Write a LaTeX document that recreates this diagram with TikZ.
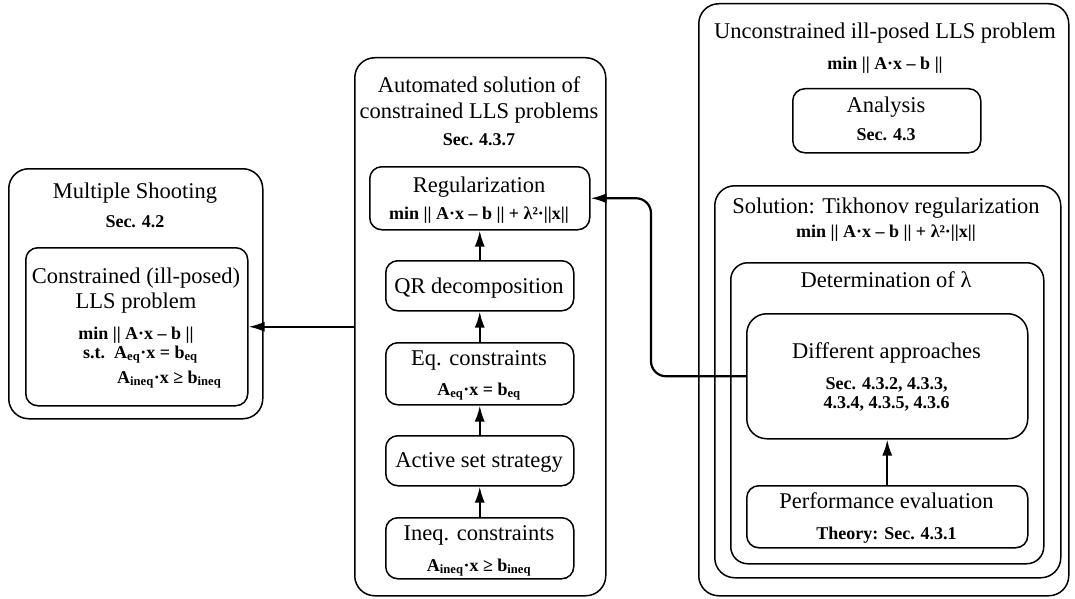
\documentclass[tikz,border=0pt]{standalone}
\usepackage{fontspec}
\setmainfont{Liberation Serif}
\usetikzlibrary{arrows.meta}
\tikzset{
  obox/.style={draw, line width=1.5pt, rounded corners=20pt, anchor=north west, inner sep=0pt},
  mbox/.style={draw, line width=1.5pt, rounded corners=17pt, anchor=north west, inner sep=0pt},
  ibox/.style={draw, line width=1.5pt, rounded corners=12pt, anchor=north west, inner sep=0pt},
  ttl/.style={font=\fontsize{22.5}{27}\selectfont, inner sep=0pt, anchor=base},
  sub/.style={font=\fontsize{18}{21}\selectfont\bfseries, inner sep=0pt, anchor=base},
  conn/.style={line width=2.2pt, -{Latex[length=16pt,width=10pt]}},
}
\newcommand{\mysb}[1]{\textsubscript{#1}}
\begin{document}
\begin{tikzpicture}[x=1pt,y=-1pt]
\useasboundingbox (0,0) rectangle (1075,599);

% ---------- left group ----------
\node[obox, minimum width=254, minimum height=250] (ms) at (8,168) {};
\node[ibox, minimum width=222, minimum height=158] (cons) at (25,247) {};
\node[ttl] (msT) at (135,198) {Multiple Shooting};
\node[sub] (msS) at (135,227) {Sec. 4.2};
\node[ttl] (consT1) at (136,283) {Constrained (ill-posed)};
\node[ttl] (consT2) at (136,308) {LLS problem};
\node[sub] (consF1) at (136,339) {min || A·x – b ||};
\node[sub, anchor=base west] (consF2) at (83,358) {s.t.\ \ A\mysb{eq}·x = b\mysb{eq}};
\node[sub, anchor=base west] (consF3) at (117,383) {A\mysb{ineq}·x ≥ b\mysb{ineq}};

% ---------- middle group ----------
\node[obox, minimum width=251, minimum height=538] (auto) at (354,57) {};
\node[ttl] (autoT1) at (479,93) {Automated solution of};
\node[ttl] (autoT2) at (479,118) {constrained LLS problems};
\node[sub] (autoS) at (479,145) {Sec. 4.3.7};

\node[ibox, minimum width=220, minimum height=63] (reg) at (369,166) {};
\node[ttl] (regT) at (479,192) {Regularization};
\node[sub] (regF) at (479,219) {min || A·x – b || + λ²·||x||};

\node[ibox, minimum width=188, minimum height=50] (qr) at (385,260) {};
\node[ttl] (qrT) at (479,293) {QR decomposition};

\node[ibox, minimum width=188, minimum height=62] (eq) at (385,342) {};
\node[ttl] (eqT) at (479,365) {Eq. constraints};
\node[sub] (eqF) at (479,395) {A\mysb{eq}·x = b\mysb{eq}};

\node[ibox, minimum width=188, minimum height=50] (act) at (385,435) {};
\node[ttl] (actT) at (479,467) {Active set strategy};

\node[ibox, minimum width=188, minimum height=61] (ineq) at (385,517) {};
\node[ttl] (ineqT) at (479,540) {Ineq. constraints};
\node[sub] (ineqF) at (479,571) {A\mysb{ineq}·x ≥ b\mysb{ineq}};

% ---------- right group ----------
\node[obox, minimum width=370, minimum height=592] (unc) at (698,3) {};
\node[ttl] (uncT) at (885,39) {Unconstrained ill-posed LLS problem};
\node[sub] (uncF) at (885,70) {min || A·x – b ||};

\node[ibox, minimum width=188, minimum height=64] (ana) at (792,88) {};
\node[ttl] (anaT) at (886,113) {Analysis};
\node[sub] (anaS) at (886,140) {Sec. 4.3};

\node[obox, minimum width=346, minimum height=392] (sol) at (714,185) {};
\node[ttl] (solT) at (886,213) {Solution: Tikhonov regularization};
\node[sub] (solF) at (886,237) {min || A·x – b || + λ²·||x||};

\node[mbox, minimum width=313, minimum height=301] (det) at (730,262) {};
\node[ttl] (detT) at (886,287) {Determination of λ};

\node[obox, minimum width=281, minimum height=125] (diff) at (746,313) {};
\node[ttl] (diffT) at (886.5,358) {Different approaches};
\node[sub] (diffS1) at (886.5,389) {Sec. 4.3.2, 4.3.3,};
\node[sub] (diffS2) at (886.5,408) {4.3.4, 4.3.5, 4.3.6};

\node[ibox, minimum width=281, minimum height=62] (perf) at (746,485) {};
\node[ttl] (perfT) at (886.5,508) {Performance evaluation};
\node[sub] (perfS) at (886.5,539) {Theory: Sec. 4.3.1};

% ---------- connectors ----------
\coordinate (bend) at (651,0);
\draw[conn] (qr.north) -- (reg.south);
\draw[conn] (eq.north) -- (qr.south);
\draw[conn] (act.north) -- (eq.south);
\draw[conn] (ineq.north) -- (act.south);
\draw[conn] (perf.north) -- (diff.south);
\draw[conn] (auto.west |- cons.east) -- (cons.east);
\draw[conn, rounded corners=15pt] (diff.west) -- (diff.west -| bend) -- (reg.east -| bend) -- (reg.east);
\end{tikzpicture}
\end{document}
